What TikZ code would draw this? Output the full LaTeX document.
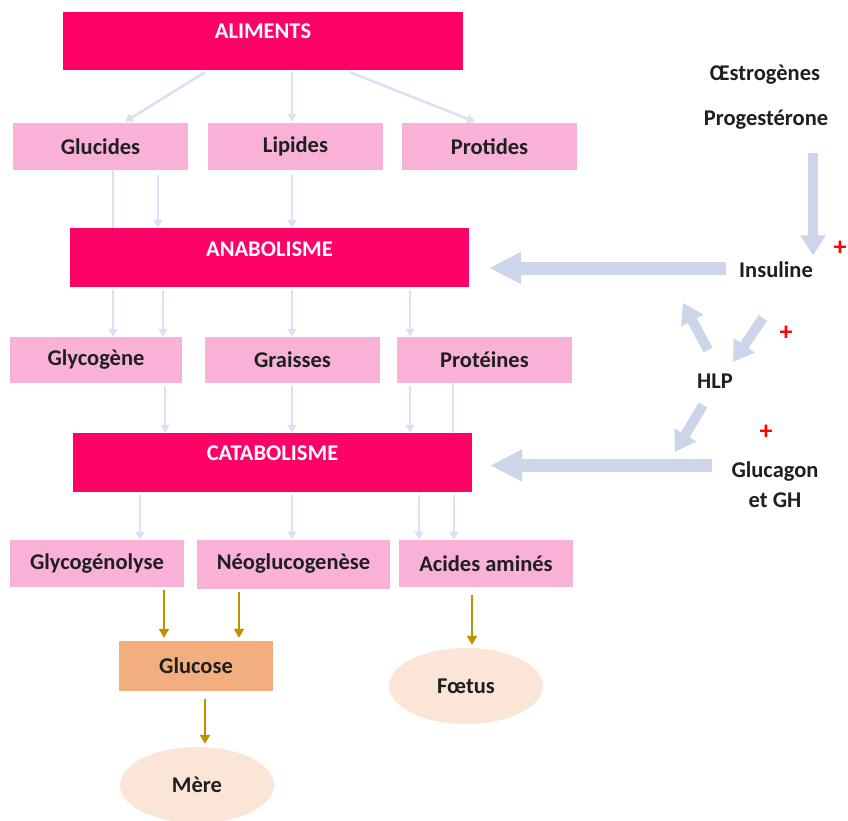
\documentclass[tikz,border=0pt]{standalone}
\usepackage{fontspec}
\setmainfont{Carlito}
\usetikzlibrary{calc,arrows.meta,shapes.geometric}
\definecolor{magent}{HTML}{FF0066}
\definecolor{pinkbox}{HTML}{F9B1D7}
\definecolor{orangebox}{HTML}{F2AE7E}
\definecolor{peach}{HTML}{FBE5D6}
\definecolor{thinblue}{HTML}{D9E1F2}
\definecolor{thickblue}{HTML}{CDD5EA}
\definecolor{gold}{HTML}{BF9000}
\definecolor{txt}{HTML}{1F1F1F}
\begin{document}
\begin{tikzpicture}[x=1pt,y=-1pt,
  every node/.style={font=\fontsize{22.5}{27}\selectfont\bfseries, text=txt},
  magbox/.style={fill=magent, draw=none, inner sep=0pt},
  pinkb/.style={fill=pinkbox, draw=none, inner sep=0pt},
  thin/.style={draw=thinblue, line width=2.5pt, -{Triangle[width=9pt,length=8pt]}},
  thinline/.style={draw=thinblue, line width=2.5pt},
  goldarr/.style={draw=gold, line width=2.5pt, -{Triangle[width=10pt,length=9pt]}},
  bigarr/.style={draw=thickblue, line width=13pt, -{Triangle[width=30pt,length=32pt]}},
  medarr/.style={draw=thickblue, line width=10pt, -{Triangle[width=24pt,length=20pt]}},
  plus/.style={text=red, font=\fontsize{26}{26}\selectfont\bfseries}
]
\useasboundingbox (0,0) rectangle (848,821);
\fill[white] (0,0) rectangle (848,821);

% magenta boxes
\node[magbox, minimum width=400pt, minimum height=58pt, label={[text=white,yshift=10pt]center:ALIMENTS}] (alim) at (263,41) {};
\node[magbox, minimum width=399pt, minimum height=59pt, label={[text=white,yshift=8pt]center:ANABOLISME}] (anab) at (269.5,257.5) {};
\node[magbox, minimum width=399pt, minimum height=59pt, label={[text=white,yshift=9pt]center:CATABOLISME}] (catab) at (272.5,462.5) {};

% pink boxes
\node[pinkb, minimum width=175pt, minimum height=47pt] (glu) at (100.5,146.5) {Glucides};
\node[pinkb, minimum width=175pt, minimum height=47pt] (lip) at (295.5,146.5) {Lipides};
\node[pinkb, minimum width=175pt, minimum height=47pt] (pro) at (489.5,146.5) {Protides};
\node[pinkb, minimum width=172pt, minimum height=46pt] (glyc) at (96,360) {Glycogène};
\node[pinkb, minimum width=175pt, minimum height=46pt] (grai) at (292.5,360) {Graisses};
\node[pinkb, minimum width=175pt, minimum height=46pt] (prot) at (484.5,360) {Protéines};
\node[pinkb, minimum width=174pt, minimum height=47pt] (glyl) at (97,563.5) {Glycogénolyse};
\node[pinkb, minimum width=193pt, minimum height=49pt] (neo) at (293.5,564) {Néoglucogenèse};
\node[pinkb, minimum width=174pt, minimum height=47pt] (aa) at (486,563.5) {Acides aminés};
\node[fill=orangebox, inner sep=0pt, minimum width=154pt, minimum height=50pt] (glucose) at (196,666) {Glucose};
\node[ellipse, fill=peach, inner sep=0pt, minimum width=154pt, minimum height=76pt] (foetus) at (466,686) {Fœtus};
\node[ellipse, fill=peach, inner sep=0pt, minimum width=154pt, minimum height=76pt] (mere) at (197,785) {Mère};

% right side texts
\node (oes) at (765,75) {Œstrogènes};
\node (prog) at (766,120) {Progestérone};
\node (ins) at (776,270) {Insuline};
\node (hlp) at (715,381) {HLP};
\node[align=center] (gluc) at (775,485) {Glucagon\\[3pt]et GH};
\node[plus] (p1) at (840,248) {+};
\node[plus] (p2) at (786,333) {+};
\node[plus] (p3) at (766,432) {+};

% thin arrows
\draw[thin] ($(alim.south)+(-58,2)$) -- ($(glu.north)+(24.5,-1)$);
\draw[thin] ($(alim.south)+(29,2)$) -- ($(lip.north)+(-3.5,-1)$);
\draw[thin] ($(alim.south)+(87,2)$) -- ($(pro.north)+(-14.5,-1)$);
\draw[thinline] ($(glu.south)+(12.5,0)$) -- ($(anab.north)+(-156.5,0)$);
\draw[thin] ($(glu.south)+(57.5,5)$) -- ($(anab.north)+(-111.5,0)$);
\draw[thin] ($(lip.south)+(-3.5,5)$) -- ($(anab.north)+(22.5,0)$);
\draw[thin] ($(anab.south)+(-156.5,3)$) -- ($(glyc.north)+(17,0)$);
\draw[thin] ($(anab.south)+(-106.5,3)$) -- ($(glyc.north)+(67,0)$);
\draw[thin] ($(anab.south)+(22.5,3)$) -- ($(grai.north)+(-0.5,0)$);
\draw[thin] ($(anab.south)+(140.5,3)$) -- ($(prot.north)+(-74.5,0)$);
\draw[thin] ($(glyc.south)+(69,3)$) -- ($(catab.north)+(-107.5,0)$);
\draw[thin] ($(grai.south)+(-0.5,3)$) -- ($(catab.north)+(19.5,0)$);
\draw[thin] ($(prot.south)+(-74.5,3)$) -- ($(catab.north)+(137.5,0)$);
\draw[thinline] ($(prot.south)+(-31.5,0)$) -- ($(catab.north)+(180.5,0)$);
\draw[thin] ($(catab.south)+(-132.5,3)$) -- ($(glyl.north)+(43,0)$);
\draw[thin] ($(catab.south)+(19.5,3)$) -- ($(neo.north)+(-1.5,0)$);
\draw[thin] ($(catab.south)+(146.5,3)$) -- ($(aa.north)+(-67,0)$);
\draw[thin] ($(catab.south)+(181.5,3)$) -- ($(aa.north)+(-32,0)$);

% gold arrows
\draw[goldarr] ($(glyl.south)+(67,3)$) -- ($(glucose.north)+(-32,-3)$);
\draw[goldarr] ($(neo.south)+(-54.5,3)$) -- ($(glucose.north)+(43,-3)$);
\draw[goldarr] ($(aa.south)+(-14,8)$) -- ($(foetus.north)+(6,-3)$);
\draw[goldarr] ($(glucose.south)+(9,8)$) -- ($(mere.north)+(8,-3)$);

% thick arrows
\draw[medarr] ($(prog.south)+(47,20)$) -- ($(ins.north)+(37,-3)$);
\draw[bigarr] ($(ins.west)+(-10,-2)$) -- ($(ins.west -| anab.east)+(20,-2)$);
\draw[medarr] ($(hlp)+(-7,-31)$) -- ($(hlp)+(-32,-78)$);
\draw[medarr] ($(ins)+(-13,48)$) -- ($(ins)+(-43,92)$);
\draw[medarr] ($(hlp)+(-12,24)$) -- ($(hlp)+(-40,71)$);
\draw[bigarr] ($(gluc.west |- catab.east)+(-16,3)$) -- ($(catab.east)+(18,3)$);
\end{tikzpicture}
\end{document}
